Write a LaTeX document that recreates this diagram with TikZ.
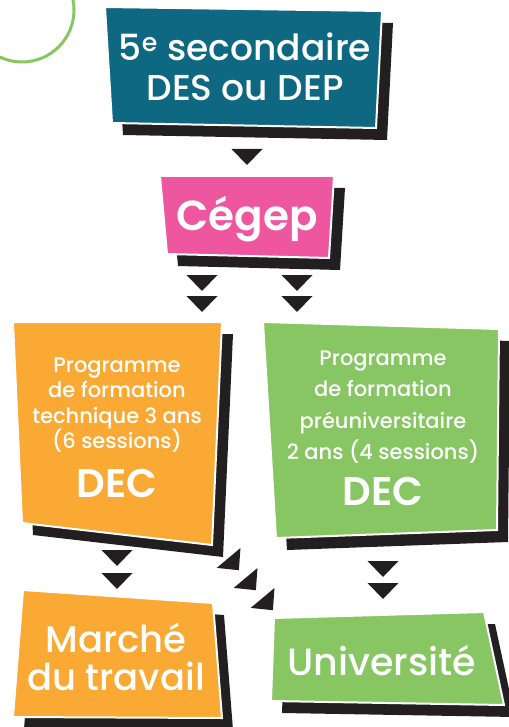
\documentclass[tikz,border=0pt]{standalone}
\usepackage{fontspec}
\setmainfont{Poppins}[UprightFont=* Medium, BoldFont=* SemiBold]
\usepackage{xcolor}
\usepackage{tikz}
\definecolor{tealbox}{HTML}{0E6882}
\definecolor{pinkbox}{HTML}{EE56A0}
\definecolor{orangebox}{HTML}{F9A934}
\definecolor{greenbox}{HTML}{87C662}
\definecolor{inkblack}{HTML}{231F20}
\tikzset{shadow/.style={fill=inkblack, shift={(11,12)}},
         box/.style={fill=#1, draw=white, line width=2pt, line join=miter},
         label/.style={text=white, align=center, inner sep=0pt},
         tip/.style={fill=inkblack}}

\begin{document}
\begin{tikzpicture}[x=1pt,y=-1pt]
                \useasboundingbox (0,0) rectangle (508,727);
                \draw[greenbox, line width=3pt] (22,10) circle [radius=52];

                % the boxes, each with its black shadow
                \def\secbox{(105,7) -- (382,11) -- (376,128) -- (112,123) -- cycle}
                \def\cegbox{(160,176) -- (334,176) -- (329,258) -- (167,254) -- cycle}
                \def\techbox{(13,322) -- (222,322) -- (212,545) -- (22,523) -- cycle}
                \def\preubox{(263,322) -- (499,329) -- (497,530) -- (276,538) -- cycle}
                \def\marchebox{(23,590) -- (213,603) -- (222,718) -- (13,717) -- cycle}
                \def\univbox{(274,618) -- (484,612) -- (504,705) -- (271,701) -- cycle}

                \fill[shadow] \secbox;   \filldraw[box=tealbox] \secbox;
                \fill[shadow] \cegbox;   \filldraw[box=pinkbox] \cegbox;
                \fill[shadow] \techbox;  \filldraw[box=orangebox] \techbox;
                \fill[shadow] \preubox;  \filldraw[box=greenbox] \preubox;
                \fill[shadow] \marchebox; \filldraw[box=orangebox] \marchebox;
                \fill[shadow] \univbox;  \filldraw[box=greenbox] \univbox;

                \node[label, font=\fontsize{36}{40}\selectfont] (secondaire) at (245,67)
                    {5\textsuperscript{e} secondaire\\DES ou DEP};
                \node[label, anchor=base, font=\bfseries\fontsize{42}{48}\selectfont] (cegep) at (247,230) {Cégep};
                \node[label, font=\fontsize{21}{25.5}\selectfont] (technique) at (117,405)
                    {Programme\\de formation\\technique 3 ans\\(6 sessions)};
                \node[label, anchor=base, font=\bfseries\fontsize{40}{44}\selectfont] (dectech) at (117,497) {DEC};
                \node[label, font=\fontsize{21}{31.5}\selectfont] (preu) at (383,407)
                    {Programme\\de formation\\préuniversitaire\\2 ans (4 sessions)};
                \node[label, anchor=base, font=\bfseries\fontsize{40}{44}\selectfont] (decpreu) at (383,505) {DEC};
                \node[label, font=\fontsize{37}{38}\selectfont] (marche) at (116,657)
                    {Marché\\du travail};
                \node[label, anchor=base, font=\fontsize{38}{40}\selectfont] (universite) at (382,675) {Université};

                % arrow heads
                \fill[tip, shift={(247,149)}] (-15.5,0) -- (15.5,0) -- (0,16) -- cycle;
                \fill[tip, shift={(202,275)}] (-15.5,0) -- (15.5,0) -- (0,16) -- cycle;
                \fill[tip, shift={(202,296)}] (-15.5,0) -- (15.5,0) -- (0,16) -- cycle;
                \fill[tip, shift={(297,275)}] (-15.5,0) -- (15.5,0) -- (0,16) -- cycle;
                \fill[tip, shift={(297,296)}] (-15.5,0) -- (15.5,0) -- (0,16) -- cycle;
                \fill[tip, shift={(117,550)}] (-15.5,0) -- (15.5,0) -- (0,16) -- cycle;
                \fill[tip, shift={(117,573)}] (-15.5,0) -- (15.5,0) -- (0,16) -- cycle;
                \fill[tip, shift={(383,561)}] (-15.5,0) -- (15.5,0) -- (0,16) -- cycle;
                \fill[tip, shift={(383,583)}] (-15.5,0) -- (15.5,0) -- (0,16) -- cycle;
                \fill[tip, shift={(232,562)}, rotate=40] (-15.5,-5.3) -- (15.5,-5.3) -- (0,10.7) -- cycle;
                \fill[tip, shift={(249,582)}, rotate=40] (-15.5,-5.3) -- (15.5,-5.3) -- (0,10.7) -- cycle;
                \fill[tip, shift={(266,602)}, rotate=40] (-15.5,-5.3) -- (15.5,-5.3) -- (0,10.7) -- cycle;

\end{tikzpicture}
\end{document}
